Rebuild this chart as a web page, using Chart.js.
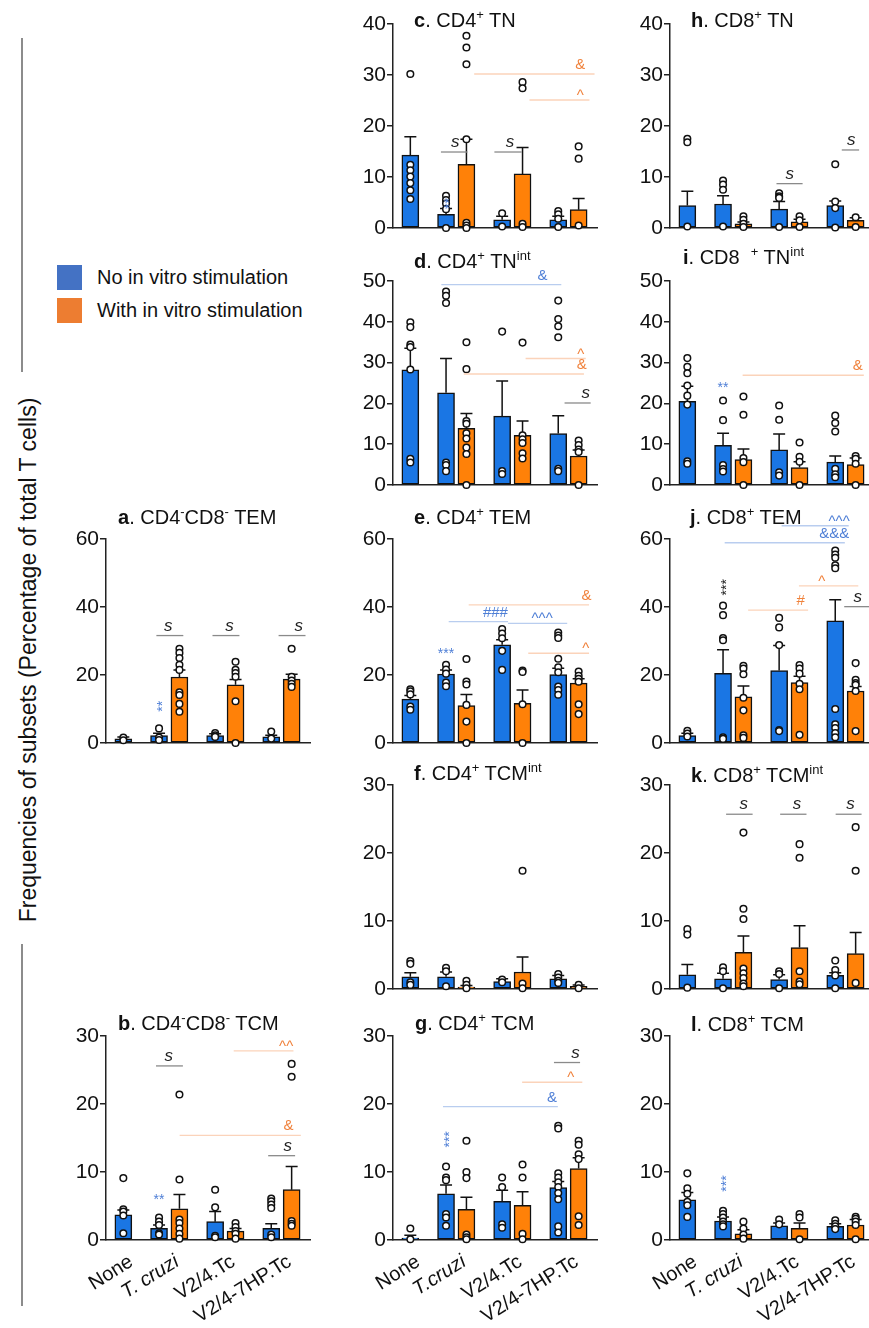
<!DOCTYPE html>
<html>
<head>
<meta charset="utf-8">
<script src="https://cdn.jsdelivr.net/npm/chart.js@4.4.1/dist/chart.umd.min.js"></script>
<style>
  body { margin: 0; width: 869px; height: 1328px; overflow: hidden; background: #fff; position: relative;
         font-family: 'Liberation Sans', Arial, sans-serif; color: #111; }
  canvas { position: absolute; }
  .ttl { position: absolute; font-size: 20px; line-height: 24px; white-space: nowrap; z-index: 5; }
  .ttl sup { font-size: 13px; vertical-align: 0; position: relative; top: -8px; }
  .lg-box { position: absolute; left: 57px; width: 25px; height: 25px; }
  .lg-txt { position: absolute; left: 97px; font-size: 20px; line-height: 24px; white-space: nowrap; }
  .ytitle { position: absolute; left: 28px; top: 660px; font-size: 23px; white-space: nowrap;
            transform: translate(-50%, -50%) rotate(-90deg); }
  .vline { position: absolute; left: 21px; width: 1.5px; background: #8c8c8c; }
</style>
</head>
<body>
<div class="vline" style="top:38px;height:334px"></div>
<div class="vline" style="top:944px;height:362px"></div>
<div class="ytitle" id="ytitle"></div>
<div class="lg-box" style="top:265px;background:#4472c4"></div>
<div class="lg-txt" id="lg0" style="top:265px"></div>
<div class="lg-box" style="top:298px;background:#ed7d31"></div>
<div class="lg-txt" id="lg1" style="top:298px"></div>

<script>
// --- DATA ---
const SERIES = ['No in vitro stimulation', 'With in vitro stimulation'];
const Y_TITLE = 'Frequencies of subsets (Percentage of total T cells)';
const GROUPS = ['None', 'T. cruzi', 'V2/4.Tc', 'V2/4-7HP.Tc'];
const GROUPS_G = ['None', 'T.cruzi', 'V2/4.Tc', 'V2/4-7HP.Tc'];

// sig lines: [from, to, y, label, colour, label x]   stars: [x, y, label, colour, vertical]
// a. CD4-CD8- TEM
const aMean = [[1.2, 2.2, 2.2, 1.8], [null, 19.4, 17.1, 18.8]];
const aSem = [[0.6, 0.7, 0.5, 0.5], [null, 2.1, 1.6, 1.4]];
const aBluePts = [[1.6, 0.8], [4.3, 1.6, 0.9], [2.9, 2.3, 1.8], [3.4, 1.3]];
const aOrangePts = [[], [27.7, 26.5, 25.0, 23.0, 21.5, 14.9, 14.1, 11.5, 9.2], [23.9, 21.5, 20.6, 19.5, 12.3, 0], [27.7, 19.5, 18.4, 17.4, 16.5]];
const aSig = [[1.62, 2.94, 31.6, 's', 'k', 2.2], [4.37, 5.69, 31.6, 's', 'k', 5.2], [7.61, 8.93, 31.6, 's', 'k', 8.6]];
const aStars = [[1.75, 10.8, '**', 'b', 1]];

// b. CD4-CD8- TCM
const bMean = [[3.7, 1.7, 2.7, 1.7], [null, 4.6, 1.3, 7.4]];
const bSem = [[0.7, 0.5, 1.5, 0.7], [null, 2.1, 0.4, 3.4]];
const bBluePts = [[9.1, 4.5, 4.2, 3.6, 1.0], [3.3, 2.7, 2.2, 1.0, 0.8], [7.4, 4.8, 0.6, 0.4], [6.1, 5.7, 5.2, 4.7, 0.8, 0.4]];
const bOrangePts = [[], [21.4, 8.9, 3.0, 2.5, 1.7, 0.9, 0.2], [2.5, 1.9, 1.3, 0.9, 0.2], [25.9, 24.0, 2.8, 2.4, 2.1]];
const bSig = [[1.6, 2.92, 25.6, 's', 'k', 2.22], [5.41, 8.34, 27.8, '^^', 'o', 7.98], [2.76, 8.7, 15.4, '&', 'o', 8.1], [7.1, 8.42, 12.4, 's', 'k', 8.06]];
const bStars = [[1.75, 6.5, '**', 'b', 0]];

// c. CD4+ TN
const cMean = [[14.3, 2.7, 1.6, 1.6], [null, 12.5, 10.6, 3.6]];
const cSem = [[3.6, 1.1, 0.7, 0.7], [null, 4.9, 5.2, 2.2]];
const cBluePts = [[30.2, 12.4, 11.3, 10.1, 8.8, 7.4, 5.7], [6.3, 5.5, 4.8, 3.7, 0], [2.9, 0.3], [3.3, 2.7, 1.8, 0.2]];
const cOrangePts = [[], [37.7, 35.4, 32.1, 17.4, 1.0, 0.5, 0], [28.6, 27.4, 0.8, 0.2], [16.0, 13.6, 0.5]];
const cSig = [[1.5, 2.8, 14.9, 's', 'k', 2.2], [4.12, 5.46, 14.9, 's', 'k', 4.89], [3.13, 9.03, 30.2, '&', 'o', 8.33], [5.84, 8.78, 25.1, '^', 'o', 8.33]];
const cStars = [[1.75, 4.8, '**', 'b', 1]];

// d. CD4+ TNint
const dMean = [[28.2, 22.6, 16.9, 12.6], [null, 13.9, 12.2, 7.1]];
const dSem = [[5.3, 8.4, 8.6, 4.4], [null, 3.6, 3.5, 1.5]];
const dBluePts = [[39.9, 38.7, 34.4, 33.8, 28.3, 6.4, 5.5], [47.4, 46.4, 44.6, 5.5, 4.9, 3.4], [37.6, 3.4, 2.7], [45.2, 40.7, 38.9, 36.2, 4.0, 3.4]];
const dOrangePts = [[], [35.0, 28.4, 15.7, 15.0, 12.7, 11.4, 9.2, 7.6, 0], [34.9, 12.2, 11.2, 10.3, 7.8, 6.5], [10.9, 9.8, 8.7, 8.1, 0]];
const dSig = [[1.52, 7.4, 49.1, '&', 'b', 6.48], [5.65, 8.6, 31.0, '^', 'o', 8.35], [2.62, 8.51, 27.2, '&', 'o', 8.4], [7.56, 8.84, 20.1, 's', 'k', 8.6]];
const dStars = [];

// e. CD4+ TEM
const eMean = [[12.9, 20.3, 28.9, 20.1], [null, 11.0, 11.7, 17.6]];
const eSem = [[1.1, 1.2, 1.5, 1.9], [null, 3.3, 3.9, 1.3]];
const eBluePts = [[15.8, 15.2, 14.3, 10.7, 9.8], [23.0, 21.6, 20.4, 17.8, 16.7], [33.5, 32.2, 30.8, 27.1, 21.5], [32.5, 31.6, 30.9, 24.8, 22.3, 20.8, 16.6, 15.6, 14.2]];
const eOrangePts = [[], [24.7, 18.1, 17.2, 11.2, 6.3, 0], [21.3, 20.9, 11.4, 0], [21.0, 19.8, 18.9, 18.0, 11.4, 8.5]];
const eSig = [[2.86, 8.76, 40.6, '&', 'o', 8.64], [1.88, 4.79, 35.7, '###', 'b', 4.17], [4.79, 7.69, 35.2, '^^^', 'b', 6.46], [5.78, 8.76, 26.4, '^', 'o', 8.6]];
const eStars = [[1.75, 27.2, '***', 'b', 0]];

// f. CD4+ TCMint
const fMean = [[1.8, 1.8, 1.1, 1.5], [null, 0.3, 2.5, 0.4]];
const fSem = [[0.6, 0.7, 0.4, 0.5], [null, 0.2, 2.2, 0.2]];
const fBluePts = [[4.1, 3.7, 1.0, 0.6], [3.1, 2.6, 0.4], [1.4, 1.0], [2.2, 1.7, 1.2, 0.9]];
const fOrangePts = [[], [1.2, 0.6, 0.1], [17.4, 0.8, 0.1], [0.6, 0.1]];
const fSig = [];
const fStars = [];

// g. CD4+ TCM
const gMean = [[0.3, 6.8, 5.7, 7.7], [null, 4.5, 5.1, 10.5]];
const gSem = [[0.4, 1.3, 1.6, 0.9], [null, 1.8, 2.0, 1.6]];
const gBluePts = [[1.7, 0.1], [10.8, 9.2, 8.8, 3.8, 3.3, 2.1], [9.2, 7.8, 2.3, 1.8], [16.8, 16.4, 9.8, 9.2, 8.5, 7.8, 6.9, 6.0, 2.0, 1.1]];
const gOrangePts = [[], [14.6, 10.0, 9.1, 0.8, 0.4, 0.1], [11.1, 9.2, 0.9, 0.1], [14.6, 14.0, 12.6, 11.9, 3.5, 2.2]];
const gSig = [[7.04, 8.32, 26.1, 's', 'k', 8.1], [5.48, 8.43, 23.2, '^', 'o', 7.86], [1.6, 7.23, 19.6, '&', 'b', 6.95]];
const gStars = [[1.75, 14.8, '***', 'b', 1]];

// h. CD8+ TN
const hMean = [[4.4, 4.7, 3.7, 4.4], [null, 0.8, 1.2, 1.5]];
const hSem = [[2.8, 1.6, 1.5, 0.9], [null, 0.4, 0.5, 0.5]];
const hBluePts = [[17.5, 16.8, 0.3], [9.3, 8.5, 7.5, 0.3], [6.8, 6.2, 5.9, 0.2], [12.5, 5.2, 3.9, 0.1]];
const hOrangePts = [[], [2.3, 1.6, 0.8, 0.2], [2.3, 1.5, 0.2], [2.1, 0.2]];
const hSig = [[4.37, 5.65, 8.7, 's', 'k', 5.02], [7.57, 8.42, 15.3, 's', 'k', 8.03]];
const hStars = [];

// i. CD8+ TNint
const iMean = [[20.5, 9.7, 8.6, 5.6], [null, 6.2, 4.3, 5.0]];
const iSem = [[3.7, 3.0, 3.9, 1.5], [null, 2.6, 1.4, 1.6]];
const iBluePts = [[31.1, 29.0, 27.4, 24.4, 21.9, 19.7, 5.8, 5.2], [20.7, 15.9, 4.9, 3.9, 3.3], [19.5, 16.0, 3.1, 2.3], [17.0, 15.2, 13.1, 4.0, 2.6, 1.9]];
const iOrangePts = [[], [21.7, 17.2, 6.6, 5.6, 0], [10.4, 6.9, 5.7, 0], [7.1, 6.4, 5.2, 0]];
const iSig = [[2.71, 8.65, 26.9, '&', 'o', 8.35]];
const iStars = [[1.75, 24.6, '**', 'b', 0]];

// j. CD8+ TEM
const jMean = [[2.2, 20.5, 21.3, 35.9], [null, 13.6, 17.8, 15.3]];
const jSem = [[0.7, 6.9, 7.4, 6.2], [null, 3.2, 1.8, 1.3]];
const jBluePts = [[3.6, 2.8, 1.9], [40.4, 37.6, 30.9, 30.2, 1.7, 1.2], [36.8, 34.0, 28.8, 3.8, 3.5], [56.6, 55.4, 54.5, 52.3, 51.4, 10.0, 5.5, 4.4, 2.9, 1.7]];
const jOrangePts = [[], [22.7, 21.9, 20.2, 13.3, 9.6, 2.3, 1.5], [22.9, 21.9, 20.4, 17.4, 15.8, 2.4], [23.5, 18.6, 17.6, 17.1, 15.3, 3.5]];
const jSig = [[2.98, 5.92, 39.1, '#', 'o', 5.56], [5.47, 8.38, 46.2, '^', 'o', 6.59], [7.69, 9.2, 40.1, 's', 'k', 8.35], [1.83, 7.72, 58.9, '&&&', 'b', 7.2], [4.62, 7.91, 63.9, '^^^', 'b', 7.44]];
const jStars = [[1.75, 45.8, '***', 'k', 1]];

// k. CD8+ TCMint
const kMean = [[2.1, 1.5, 1.4, 2.0], [null, 5.4, 6.1, 5.2]];
const kSem = [[1.5, 0.8, 0.7, 0.4], [null, 2.4, 3.2, 3.1]];
const kBluePts = [[8.8, 8.0, 0.2], [3.2, 2.6, 0.1], [2.6, 2.2, 0.1], [4.2, 2.8, 2.0, 0.1]];
const kOrangePts = [[], [23.0, 11.8, 10.3, 3.0, 2.3, 1.6, 0.8, 0.4], [21.3, 19.3, 2.6, 1.1, 0.7], [23.8, 17.4, 0.9]];
const kSig = [[1.9, 3.2, 25.7, 's', 'k', 2.77], [4.55, 5.84, 25.7, 's', 'k', 5.37], [7.27, 8.54, 25.7, 's', 'k', 8.0]];
const kStars = [];

// l. CD8+ TCM
const lMean = [[5.9, 2.8, 2.1, 2.0], [null, 0.9, 1.7, 2.2]];
const lSem = [[1.1, 0.6, 0.4, 0.4], [null, 0.6, 0.8, 0.8]];
const lBluePts = [[9.8, 7.6, 6.8, 5.6, 5.1, 3.4], [4.3, 3.8, 3.3, 2.7, 2.3, 2.0], [3.0, 2.3], [2.9, 2.4, 2.0, 1.6]];
const lOrangePts = [[], [2.7, 1.7, 0.8, 0.2], [3.8, 3.3, 0.1], [3.4, 3.1, 2.7, 2.2, 0.1]];
const lSig = [];
const lStars = [[1.75, 8.3, '***', 'b', 1]];

// --- LAYOUT ---
const FONT = "'Liberation Sans', Arial, sans-serif";
const BLUE = '#1a76e4', ORANGE = '#ff8108';
const SIG_COL = { b: ['#b9cdef', '#4f7fd6'], o: ['#fbd3ba', '#f0823c'], k: ['#8a8a8a', '#222'] };
const COL_X = [106, 393, 670];
const ROW_Y = [[24, 228], [281, 485], [539, 743], [785, 989], [1036, 1240]];
const Y_W = 50, PAD_T = 34, PAD_R = 20, PLOT_W = 204;

const PANELS = [
  { col: 0, row: 2, ymax: 60, step: 20, mean: aMean, sem: aSem, bp: aBluePts, op: aOrangePts, sig: aSig, stars: aStars, tx: 118, ty: 517, title: '<b>a</b>. CD4<sup>-</sup>CD8<sup>-</sup> TEM' },
  { col: 0, row: 4, ymax: 30, step: 10, mean: bMean, sem: bSem, bp: bBluePts, op: bOrangePts, sig: bSig, stars: bStars, tx: 118, ty: 1023, title: '<b>b</b>. CD4<sup>-</sup>CD8<sup>-</sup> TCM', labels: GROUPS },
  { col: 1, row: 0, ymax: 40, step: 10, mean: cMean, sem: cSem, bp: cBluePts, op: cOrangePts, sig: cSig, stars: cStars, tx: 414, ty: 20, title: '<b>c</b>. CD4<sup>+</sup> TN' },
  { col: 1, row: 1, ymax: 50, step: 10, mean: dMean, sem: dSem, bp: dBluePts, op: dOrangePts, sig: dSig, stars: dStars, tx: 414, ty: 261, title: '<b>d</b>. CD4<sup>+</sup> TN<sup>int</sup>' },
  { col: 1, row: 2, ymax: 60, step: 20, mean: eMean, sem: eSem, bp: eBluePts, op: eOrangePts, sig: eSig, stars: eStars, tx: 414, ty: 517, title: '<b>e</b>. CD4<sup>+</sup> TEM' },
  { col: 1, row: 3, ymax: 30, step: 10, mean: fMean, sem: fSem, bp: fBluePts, op: fOrangePts, sig: fSig, stars: fStars, tx: 414, ty: 773, title: '<b>f</b>. CD4<sup>+</sup> TCM<sup>int</sup>' },
  { col: 1, row: 4, ymax: 30, step: 10, mean: gMean, sem: gSem, bp: gBluePts, op: gOrangePts, sig: gSig, stars: gStars, tx: 415, ty: 1023, title: '<b>g</b>. CD4<sup>+</sup> TCM', labels: GROUPS_G },
  { col: 2, row: 0, ymax: 40, step: 10, mean: hMean, sem: hSem, bp: hBluePts, op: hOrangePts, sig: hSig, stars: hStars, tx: 691, ty: 20, title: '<b>h</b>. CD8<sup>+</sup> TN' },
  { col: 2, row: 1, ymax: 50, step: 10, mean: iMean, sem: iSem, bp: iBluePts, op: iOrangePts, sig: iSig, stars: iStars, tx: 683, ty: 257, title: '<b>i</b>. CD8 &nbsp;<sup>+</sup> TN<sup>int</sup>' },
  { col: 2, row: 2, ymax: 60, step: 20, mean: jMean, sem: jSem, bp: jBluePts, op: jOrangePts, sig: jSig, stars: jStars, tx: 690, ty: 517, title: '<b>j</b>. CD8<sup>+</sup> TEM' },
  { col: 2, row: 3, ymax: 30, step: 10, mean: kMean, sem: kSem, bp: kBluePts, op: kOrangePts, sig: kSig, stars: kStars, tx: 691, ty: 775, title: '<b>k</b>. CD8<sup>+</sup> TCM<sup>int</sup>' },
  { col: 2, row: 4, ymax: 30, step: 10, mean: lMean, sem: lSem, bp: lBluePts, op: lOrangePts, sig: lSig, stars: lStars, tx: 691, ty: 1024, title: '<b>l</b>. CD8<sup>+</sup> TCM', labels: GROUPS }
];

// bar position on the x axis: None has a single bar, the others a blue/orange pair
const barPos = (g, s) => g === 0 ? 0 : g * 2.75 - 1 + s;
const groupPos = g => g === 0 ? 0 : g * 2.75 - 0.5;

// --- PLUGINS ---
const errorBars = {
  id: 'errorBars',
  afterDatasetDraw(chart, args) {
    const ds = chart.data.datasets[args.index];
    if (!ds.sem) return;
    const { ctx, scales: { x, y } } = chart;
    ctx.save();
    ctx.strokeStyle = '#111';
    ctx.lineWidth = 1.5;
    ds.data.forEach((pt, i) => {
      const e = ds.sem[i];
      if (pt.y == null || e == null) return;
      const px = x.getPixelForValue(pt.x);
      const y0 = y.getPixelForValue(pt.y), y1 = y.getPixelForValue(pt.y + e);
      ctx.beginPath();
      ctx.moveTo(px, y0); ctx.lineTo(px, y1);
      ctx.moveTo(px - 6, y1); ctx.lineTo(px + 6, y1);
      ctx.stroke();
    });
    ctx.restore();
  }
};

function sigPlugin(p) {
  return {
    id: 'sig',
    afterDraw(chart) {
      const { ctx, scales: { x, y } } = chart;
      ctx.save();
      ctx.textAlign = 'center';
      p.sig.forEach(([x1, x2, v, txt, c, tx]) => {
        const py = y.getPixelForValue(v);
        ctx.strokeStyle = SIG_COL[c][0];
        ctx.lineWidth = 1.3;
        ctx.beginPath();
        ctx.moveTo(x.getPixelForValue(x1), py);
        ctx.lineTo(x.getPixelForValue(x2), py);
        ctx.stroke();
        ctx.fillStyle = SIG_COL[c][1];
        ctx.font = txt === 's' ? `italic 17px ${FONT}` : `15px ${FONT}`;
        ctx.textBaseline = 'alphabetic';
        ctx.fillText(txt, x.getPixelForValue(tx), py - (txt[0] === '^' ? 0 : 5));
      });
      p.stars.forEach(([tx, v, txt, c, vert]) => {
        ctx.save();
        ctx.translate(x.getPixelForValue(tx), y.getPixelForValue(v));
        if (vert) ctx.rotate(-Math.PI / 2);
        ctx.fillStyle = SIG_COL[c][1];
        ctx.font = `14px ${FONT}`;
        ctx.textBaseline = 'middle';
        ctx.fillText(txt, 0, 4);
        ctx.restore();
      });
      ctx.restore();
    }
  };
}

// --- CHARTS ---
function makePanel(p) {
  const ax = COL_X[p.col];
  const [top, bottom] = ROW_Y[p.row];
  const xH = p.labels ? 95 : 16;
  const cv = document.createElement('canvas');
  cv.width = Y_W + PLOT_W + PAD_R;
  cv.height = PAD_T + (bottom - top) + xH;
  cv.style.left = (ax - Y_W) + 'px';
  cv.style.top = (top - PAD_T) + 'px';
  document.body.appendChild(cv);

  const t = document.createElement('div');
  t.className = 'ttl';
  t.innerHTML = p.title;
  t.style.left = p.tx + 'px';
  t.style.top = (p.ty - 12) + 'px';
  document.body.appendChild(t);

  const bars = s => {
    const d = [], e = [];
    p.mean[s].forEach((v, g) => { if (v != null) { d.push({ x: barPos(g, s), y: v }); e.push(p.sem[s][g]); } });
    return { d, e };
  };
  const pts = (arr, s) => arr.flatMap((vals, g) => vals.map(v => ({ x: barPos(g, s), y: v })));
  const blue = bars(0), orange = bars(1);

  const pointStyle = {
    type: 'scatter', order: 0, clip: false, pointRadius: 3.3, pointHoverRadius: 3.3,
    pointBackgroundColor: '#fff', pointBorderColor: '#111', pointBorderWidth: 1.5
  };
  const barStyle = { type: 'bar', order: 3, barThickness: 17, grouped: false, borderColor: '#111', borderWidth: 1.5, borderSkipped: false };

  new Chart(cv.getContext('2d'), {
    type: 'bar',
    data: {
      datasets: [
        { ...barStyle, label: SERIES[0], data: blue.d, sem: blue.e, backgroundColor: BLUE },
        { ...barStyle, label: SERIES[1], data: orange.d, sem: orange.e, backgroundColor: ORANGE },
        { ...pointStyle, data: pts(p.bp, 0) },
        { ...pointStyle, data: pts(p.op, 1) }
      ]
    },
    options: {
      responsive: false,
      animation: false,
      events: [],
      layout: { padding: { top: PAD_T, right: PAD_R, bottom: 0, left: 0 } },
      plugins: { legend: { display: false }, tooltip: { enabled: false } },
      scales: {
        x: {
          type: 'linear', min: -0.85, max: 9.15, offset: false,
          afterBuildTicks: s => { s.ticks = [0, 1, 2, 3].map(g => ({ value: groupPos(g) })); },
          afterFit: s => { s.height = xH; },
          grid: { display: false },
          border: { display: true, color: '#222', width: 1.5 },
          ticks: {
            display: !!p.labels, autoSkip: false, minRotation: 32, maxRotation: 32, padding: 2, labelOffset: 8, color: '#111',
            font: c => ({ family: FONT, size: 20, style: c.index === 1 ? 'italic' : 'normal' }),
            callback: (v, i) => p.labels ? p.labels[i] : ''
          }
        },
        y: {
          min: 0, max: p.ymax,
          afterFit: s => { s.width = Y_W; },
          grid: { drawOnChartArea: false, drawTicks: true, tickLength: 6, color: '#222', lineWidth: 1.5 },
          border: { display: true, color: '#222', width: 1.5 },
          ticks: { stepSize: p.step, padding: 1, color: '#111', font: { family: FONT, size: 21 } }
        }
      }
    },
    plugins: [errorBars, sigPlugin(p)]
  });
}

document.getElementById('ytitle').textContent = Y_TITLE;
document.getElementById('lg0').textContent = SERIES[0];
document.getElementById('lg1').textContent = SERIES[1];
PANELS.forEach(makePanel);
</script>
</body>
</html>
